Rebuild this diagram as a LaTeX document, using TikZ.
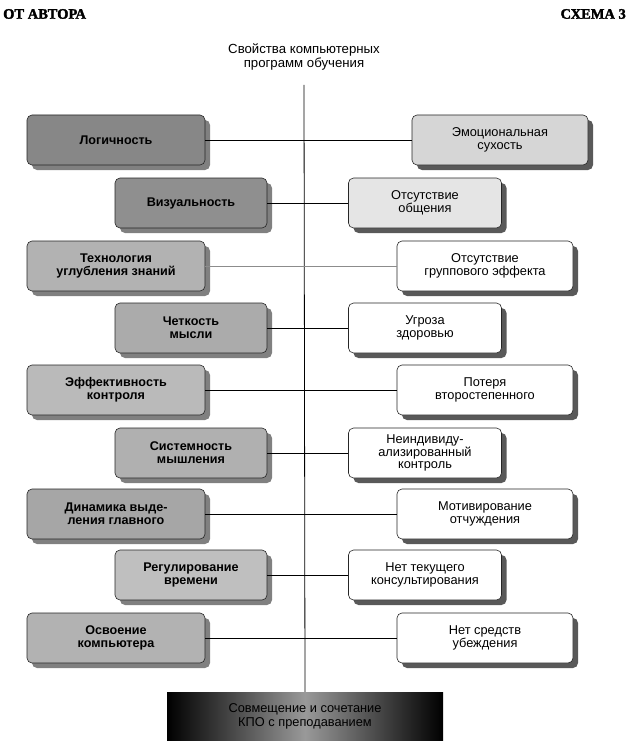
\documentclass[tikz,border=0pt]{standalone}
\usepackage{fontspec}
\setmainfont{Liberation Serif}
\setsansfont{Liberation Sans}
\newfontfamily\hdrfont[FakeBold=2]{Liberation Serif Bold}
\usetikzlibrary{shadows}
\begin{document}
\begin{tikzpicture}[x=1pt,y=-1pt,
  box/.style={draw=black!85, line width=0.6pt, rounded corners=5pt,
    minimum height=50pt, inner sep=2pt, align=center,
    font=\sffamily\fontsize{12.8}{12.8}\selectfont},
  lbox/.style={box, font=\sffamily\bfseries\fontsize{12.6}{12.8}\selectfont,
    drop shadow={shadow xshift=5pt, shadow yshift=-5pt, fill=black!50, opacity=1}},
  rbox/.style={box,
    drop shadow={shadow xshift=5pt, shadow yshift=-5pt, fill=black!65, opacity=1}},
  wideL/.style={lbox, minimum width=178pt},
  narrowL/.style={lbox, minimum width=152pt},
  wideR/.style={rbox, minimum width=176pt},
  narrowR/.style={rbox, minimum width=153pt},
  conn/.style={draw=black, line width=0.8pt},
  thinconn/.style={draw=black!45, line width=0.5pt},
  hdr/.style={font=\hdrfont\fontsize{14.5}{15}\selectfont, inner sep=0pt}
]
\useasboundingbox (0,0) rectangle (628,749);

% headers
\node[hdr, anchor=west] (hl) at (3,14) {ОТ АВТОРА};
\node[hdr, anchor=east] (hr) at (626,14) {СХЕМА 3};

% title
\node[align=center, inner sep=0pt, font=\sffamily\fontsize{13.2}{14}\selectfont] (title) at (304,57)
  {Свойства компьютерных\\программ обучения};
\coordinate (top) at (304,85);

% bottom box
\node[minimum width=276pt, minimum height=48pt, inner sep=0pt, align=center,
  left color=black, right color=black, middle color=black!40,
  font=\sffamily\fontsize{12.8}{14}\selectfont] (bot) at (305,716)
  {Совмещение и сочетание\\КПО с преподаванием};

% left boxes
\node[wideL, fill=black!47] (L1) at (116,140) {Логичность};
\node[narrowL, fill=black!44] (L2) at (191,203) {Визуальность};
\node[wideL, fill=black!30] (L3) at (116,266) {Технология\\углубления знаний};
\node[narrowL, fill=black!33] (L4) at (191,328) {Четкость\\мысли};
\node[wideL, fill=black!27] (L5) at (116,390) {Эффективность\\контроля};
\node[narrowL, fill=black!31] (L6) at (191,453) {Системность\\мышления};
\node[wideL, fill=black!35] (L7) at (116,514) {Динамика выде-\\ления главного};
\node[narrowL, fill=black!25] (L8) at (191,575) {Регулирование\\времени};
\node[wideL, fill=black!30] (L9) at (116,638) {Освоение\\компьютера};

% right boxes
\node[wideR, fill=black!16] (R1) at (500,140) {Эмоциональная\\сухость};
\node[narrowR, fill=black!10] (R2) at (425,203) {Отсутствие\\общения};
\node[wideR, fill=white] (R3) at (485,266) {Отсутствие\\группового эффекта};
\node[narrowR, fill=white] (R4) at (425,328) {Угроза\\здоровью};
\node[wideR, fill=white] (R5) at (485,390) {Потеря\\второстепенного};
\node[narrowR, fill=white] (R6) at (425,453) {Неиндивиду-\\ализированный\\контроль};
\node[wideR, fill=white] (R7) at (485,514) {Мотивирование\\отчуждения};
\node[narrowR, fill=white] (R8) at (425,575) {Нет текущего\\консультирования};
\node[wideR, fill=white] (R9) at (485,638) {Нет средств\\убеждения};

% spine
\draw[conn] (top) -- (bot.north);

% connectors
\foreach \n in {1,2,4,5,6,7,8,9} {
  \draw[conn] (L\n.east) -- (L\n.east -| top);
  \draw[conn] (R\n.west) -- (R\n.west -| top);
}
\draw[thinconn] (L3.east) -- (L3.east -| top);
\draw[thinconn] (R3.west) -- (R3.west -| top);
\end{tikzpicture}
\end{document}
